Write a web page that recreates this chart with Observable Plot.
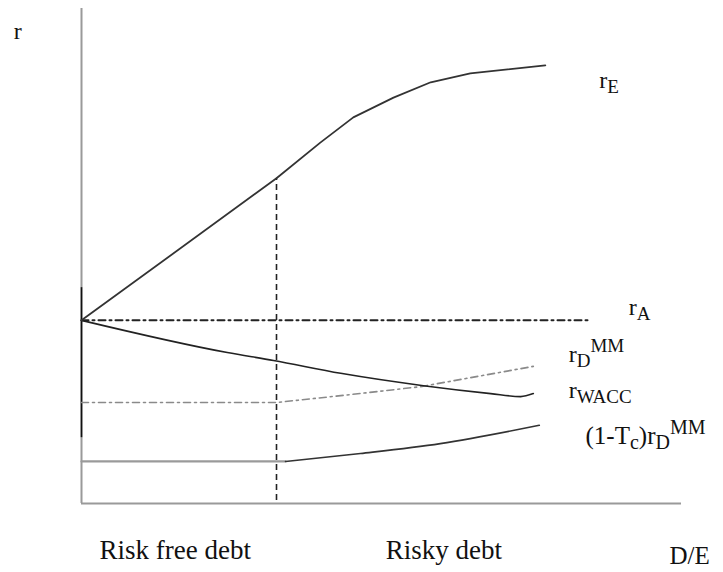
<!DOCTYPE html>
<html><head><meta charset="utf-8">
<script src="https://cdn.jsdelivr.net/npm/d3@7"></script>
<script src="https://cdn.jsdelivr.net/npm/@observablehq/plot@0.6"></script>
<style>body{margin:0;background:#fff} svg{display:block}</style>
</head><body><div id="chart"></div>
<script>
// D/E (x) and return r (y), abstract units
const rE_x = [0, 3.25, 3.98, 4.53, 5.20, 5.82, 6.48, 7.73];
const rE_y = [3.70, 6.57, 7.29, 7.80, 8.20, 8.51, 8.69, 8.85];
const rA_x = [0, 8.45];
const rA_y = [3.70, 3.70];
const rWACC_x = [0, 2.43, 3.20, 4.32, 5.70, 6.82, 7.32, 7.53];
const rWACC_y = [3.70, 3.05, 2.89, 2.63, 2.38, 2.22, 2.16, 2.22];
const rDMM_x = [0, 3.25, 4.48, 5.65, 7.53];
const rDMM_y = [2.04, 2.04, 2.20, 2.36, 2.77];
const taxFlat_x = [0, 3.4];
const taxFlat_y = [0.85, 0.85];
const taxRise_x = [3.4, 4.65, 5.98, 7.63];
const taxRise_y = [0.85, 1.01, 1.21, 1.58];
const threshold_x = 3.25;
const threshold_y = [0.06, 6.57];

// labels: parts [text, kind] with kind n = normal, sub, sup
const labelNames = ["r", "rE", "rA", "rDMM", "rWACC", "taxLabel", "riskFree", "risky", "DE"];
const labelParts = [
  [["r","n"]],
  [["r","n"],["E","sub"]],
  [["r","n"],["A","sub"]],
  [["r","n"],["D","sub"],["MM","sup"]],
  [["r","n"],["WACC","sub"]],
  [["(1-T","n"],["c","sub"],[")r","n"],["D","sub"],["MM","sup"]],
  [["Risk free debt","n"]],
  [["Risky debt","n"]],
  [["D/E","n"]]
];
const labelX = [-1.13, 8.63, 9.12, 8.12, 8.12, 8.40, 0.30, 5.07, 9.80];
const labelY = [9.39, 8.40, 3.80, 2.85, 2.14, 1.21, -1.13, -1.13, -1.22];
const labelSize = [24, 24, 24, 24, 24, 25, 27, 27, 25];

const pts = (xs, ys) => xs.map((x, i) => ({x, y: ys[i]}));
const labels = labelNames.map((n, i) => ({name: n, x: labelX[i], y: labelY[i], text: labelParts[i].map(p => p[0]).join("")}));

const serif = "'Liberation Serif', 'Times New Roman', serif";

const chart = Plot.plot({
  width: 723,
  height: 572,
  marginLeft: 81,
  marginRight: 42,
  marginTop: 8,
  marginBottom: 69,
  x: {domain: [0, 10], axis: null},
  y: {domain: [0, 10], axis: null},
  style: {fontFamily: serif, background: "#fff"},
  marks: [
    // axes
    Plot.ruleX([0], {y1: 0, y2: 10, stroke: "#9a9a9a", strokeWidth: 2}),
    Plot.ruleY([0], {x1: 0, x2: 10, stroke: "#9a9a9a", strokeWidth: 2}),
    Plot.ruleX([0], {y1: 1.33, y2: 4.36, stroke: "#111", strokeWidth: 1.6}),
    // threshold between risk free and risky debt
    Plot.ruleX([threshold_x], {y1: threshold_y[0], y2: threshold_y[1], stroke: "#222", strokeWidth: 1.6, strokeDasharray: "6,4"}),
    // r_A
    Plot.line(pts(rA_x, rA_y), {x: "x", y: "y", stroke: "#222", strokeWidth: 2, strokeDasharray: "7,4,2,4"}),
    // r_D^MM
    Plot.line(pts(rDMM_x, rDMM_y), {x: "x", y: "y", stroke: "#8a8a8a", strokeWidth: 1.6, strokeDasharray: "7,4,2,4"}),
    // (1-Tc) r_D^MM
    Plot.line(pts(taxFlat_x, taxFlat_y), {x: "x", y: "y", stroke: "#9a9a9a", strokeWidth: 2.2}),
    Plot.line(pts(taxRise_x, taxRise_y), {x: "x", y: "y", stroke: "#333", strokeWidth: 1.6, curve: "monotone-x"}),
    // r_WACC
    Plot.line(pts(rWACC_x, rWACC_y), {x: "x", y: "y", stroke: "#222", strokeWidth: 1.6, curve: "monotone-x"}),
    // r_E
    Plot.line(pts(rE_x, rE_y), {x: "x", y: "y", stroke: "#333", strokeWidth: 1.8}),
    // labels
    Plot.text(labels, {x: "x", y: "y", text: "text", textAnchor: "start", lineAnchor: "bottom", fill: "#111", className: "lbl"})
  ]
});

document.getElementById("chart").appendChild(chart);

// rebuild labels with sub/superscripts as tspans
d3.select(chart).selectAll("g.lbl text").each(function(d, i) {
  const t = d3.select(this);
  const parts = labelParts[i];
  const size = labelSize[i];
  t.text(null).attr("font-size", size).attr("font-family", serif);
  let cur = 0;
  parts.forEach(([s, kind]) => {
    const target = kind === "sub" ? 5 : kind === "sup" ? -10 : 0;
    const ts = t.append("tspan").text(s).attr("dy", target - cur);
    if (kind !== "n") ts.attr("font-size", Math.round(size * 0.78));
    cur = target;
  });
});
</script>
</body></html>
